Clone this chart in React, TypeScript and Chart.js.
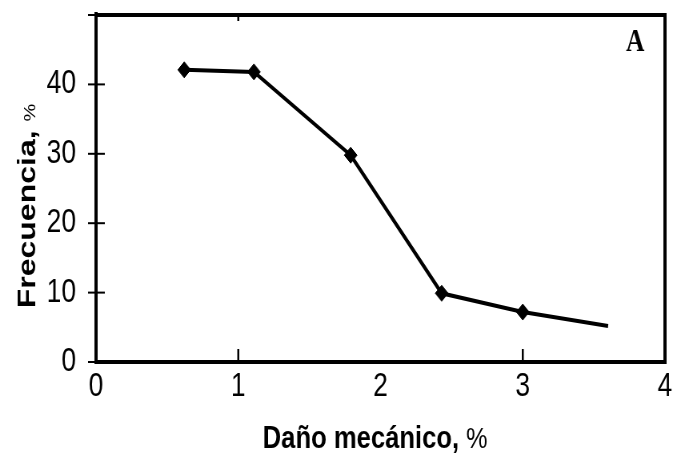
import React, { useEffect, useRef } from "react";
import { Chart, registerables } from "chart.js";

Chart.register(...registerables);

// Data
const damage = [0.62, 1.11, 1.79, 2.43, 3.0, 3.6];
const frequency = [42.1, 41.8, 29.8, 9.9, 7.2, 5.2];
const markerRadius = [8, 8, 8, 8, 8, 0];

const xTickValues = [0, 1, 2, 3, 4];
const yTickValues = [0, 10, 20, 30, 40, 50];
const yHiddenTick = 50;
const xInnerTicks = [1, 3];
const xTopTicks = [1];

const xTitleBold = "Daño mecánico, ";
const xTitleRest = "%";
const yTitleBold = "Frecuencia, ";
const yTitleRest = "%";
const panelLabel = "A";

// The reference picture is horizontally squeezed; render wider and squeeze with CSS.
const SQUEEZE = 0.8;
const VIEW_W = 681;
const VIEW_H = 453;
const CANVAS_W = Math.round(VIEW_W / SQUEEZE);

const SANS = '"Liberation Sans", Arial, sans-serif';
const SERIF = '"Liberation Serif", "Times New Roman", serif';

const decorPlugin = {
  id: "decor",
  afterDraw(chart: any) {
    const { ctx, chartArea } = chart;
    const { left, right, top, bottom } = chartArea;
    const xs = chart.scales.x;
    const ys = chart.scales.y;
    ctx.save();
    ctx.strokeStyle = "#000";
    ctx.fillStyle = "#000";
    // frame
    ctx.lineWidth = 4;
    ctx.strokeRect(left, top, right - left, bottom - top);
    // y ticks crossing the axis
    ctx.lineWidth = 2;
    yTickValues.forEach((v) => {
      const y = ys.getPixelForValue(v);
      ctx.beginPath();
      ctx.moveTo(left - 10, y);
      ctx.lineTo(left + 11, y);
      ctx.stroke();
    });
    // x inner ticks
    ctx.lineWidth = 2.5;
    xInnerTicks.forEach((v) => {
      const x = xs.getPixelForValue(v);
      ctx.beginPath();
      ctx.moveTo(x, bottom);
      ctx.lineTo(x, bottom - 13);
      ctx.stroke();
    });
    xTopTicks.forEach((v) => {
      const x = xs.getPixelForValue(v);
      ctx.beginPath();
      ctx.moveTo(x, top);
      ctx.lineTo(x, top + 6);
      ctx.stroke();
    });
    // axis extension above top
    ctx.lineWidth = 4;
    ctx.beginPath();
    ctx.moveTo(left, top);
    ctx.lineTo(left, top - 3);
    ctx.stroke();

    // panel label
    ctx.font = "bold 32px " + SERIF;
    ctx.textAlign = "center";
    ctx.textBaseline = "alphabetic";
    ctx.fillText(panelLabel, 635 / SQUEEZE, 51);

    // x title
    ctx.textAlign = "left";
    const boldX = "bold 32px " + SANS;
    const regX = "30px " + SANS;
    ctx.font = boldX;
    const w1 = ctx.measureText(xTitleBold).width;
    ctx.font = regX;
    const w2 = ctx.measureText(xTitleRest).width;
    const cx = 375 / SQUEEZE;
    const sx = cx - (w1 + w2) / 2;
    ctx.font = boldX;
    ctx.fillText(xTitleBold, sx, 448);
    ctx.font = regX;
    ctx.fillText(xTitleRest, sx + w1, 448);

    // y title (rotated)
    const boldY = "bold 32px " + SANS;
    const regY = "20px " + SANS;
    ctx.translate(35 / SQUEEZE, 206);
    ctx.rotate(-Math.PI / 2);
    ctx.font = boldY;
    const h1 = ctx.measureText(yTitleBold).width;
    ctx.font = regY;
    const h2 = ctx.measureText(yTitleRest).width;
    const sy = -(h1 + h2) / 2;
    ctx.font = boldY;
    ctx.fillText(yTitleBold, sy, 0);
    ctx.font = regY;
    ctx.fillText(yTitleRest, sy + h1, 0);
    ctx.restore();
  },
};

export default function App() {
  const ref = useRef<HTMLCanvasElement | null>(null);
  useEffect(() => {
    if (!ref.current) return;
    const chart = new Chart(ref.current, {
      type: "line",
      data: {
        datasets: [
          {
            data: damage.map((x, i) => ({ x, y: frequency[i] })),
            borderColor: "#000",
            backgroundColor: "#000",
            borderWidth: 4,
            pointStyle: "rectRot",
            pointRadius: markerRadius,
            pointBorderWidth: 1,
            pointBorderColor: "#000",
            pointBackgroundColor: "#000",
            tension: 0,
            fill: false,
          },
        ],
      },
      options: {
        animation: false,
        responsive: false,
        devicePixelRatio: 1,
        layout: { padding: { top: 15, right: CANVAS_W - Math.round(665 / SQUEEZE), left: 0, bottom: 0 } },
        plugins: { legend: { display: false }, tooltip: { enabled: false } },
        scales: {
          x: {
            type: "linear",
            min: 0,
            max: 4,
            afterBuildTicks: (s: any) => {
              s.ticks = xTickValues.map((v) => ({ value: v }));
            },
            afterFit: (s: any) => {
              s.height = VIEW_H - 362;
              s.paddingLeft = 0;
              s.paddingRight = 0;
            },
            ticks: {
              color: "#000",
              padding: 5,
              font: { family: SANS, size: 33 },
              maxRotation: 0,
            },
            grid: { display: false, drawTicks: false },
            border: { display: false },
          },
          y: {
            min: 0,
            max: 50,
            afterBuildTicks: (s: any) => {
              s.ticks = yTickValues.map((v) => ({ value: v }));
            },
            afterFit: (s: any) => {
              s.width = Math.round(96 / SQUEEZE);
              s.paddingTop = 0;
              s.paddingBottom = 0;
            },
            ticks: {
              color: "#000",
              padding: 25,
              font: { family: SANS, size: 33 },
              callback: (v: any) => (v === yHiddenTick ? "" : String(v)),
            },
            grid: { display: false, drawTicks: false },
            border: { display: false },
          },
        },
      },
      plugins: [decorPlugin],
    });
    return () => chart.destroy();
  }, []);
  return (
    <div style={{ position: "fixed", left: 0, top: 0, width: VIEW_W, height: VIEW_H, background: "#fff" }}>
      <canvas
        ref={ref}
        width={CANVAS_W}
        height={VIEW_H}
        style={{ width: VIEW_W + "px", height: VIEW_H + "px", display: "block" }}
      />
    </div>
  );
}
